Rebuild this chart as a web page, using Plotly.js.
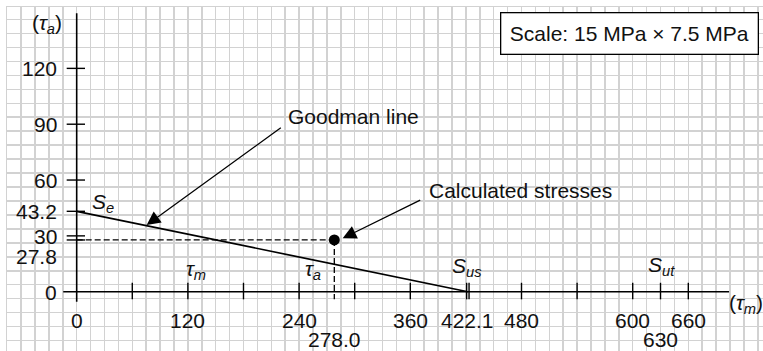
<!DOCTYPE html>
<html>
<head>
<meta charset="utf-8">
<script src="https://cdn.plot.ly/plotly-3.0.1.min.js"></script>
<style>html,body{margin:0;padding:0;background:#fff;}#chart{width:763px;height:351px;}</style>
</head>
<body>
<div id="chart"></div>
<script>
// ---- data ----
const goodmanTauM = [0, 422.1];
const goodmanTauA = [43.2, 0];
const calcTauM = [278.0];
const calcTauA = [27.8];
const xTickVals = [60, 120, 180, 240, 300, 360, 480, 540, 600, 630, 660];
const xLabelRow1Vals = [0, 120, 240, 360, 422.1, 480, 600, 660];
const xLabelRow1Text = ['0', '120', '240', '360', '422.1', '480', '600', '660'];
const xLabelRow2Vals = [278.0, 630];
const xLabelRow2Text = ['278.0', '630'];
const yTickVals = [120, 90, 60, 43.2, 30, 27.8];
const yLabelVals = [120, 90, 60, 43.2, 30, 27.8, 0];
const yLabelText = ['120', '90', '60', '43.2', '30', '27.8', '0'];
const yLabelShift = [0, 0, 0, 0, 0, -16, 0];
const Sus = 422.1;

// ---- style constants ----
const FONT = 'Liberation Sans, Arial, Helvetica, sans-serif';
const FS = 21;
const GRID = '#d2d2d2';
const BLACK = '#000';
const TICK_UP = 4.8, TICK_DN = -4.1;
const YTICK_L = -10.8, YTICK_R = 9.0;

const traces = [
  {x: goodmanTauM, y: goodmanTauA, mode: 'lines', line: {color: BLACK, width: 1.7}, hoverinfo: 'skip'},
  {x: [0, calcTauM[0]], y: [calcTauA[0], calcTauA[0]], mode: 'lines', line: {color: BLACK, width: 1.3, dash: '6px,3px'}, hoverinfo: 'skip'},
  {x: [calcTauM[0], calcTauM[0]], y: [calcTauA[0], TICK_DN], mode: 'lines', line: {color: BLACK, width: 1.3, dash: '6px,3px'}, hoverinfo: 'skip'},
  {x: calcTauM, y: calcTauA, mode: 'markers', marker: {color: BLACK, size: 11}, hoverinfo: 'skip'}
];

const shapes = [];
const ln = (x0, y0, x1, y1, w) => ({type: 'line', xref: 'x', yref: 'y', x0, y0, x1, y1, line: {color: BLACK, width: w || 1.4}});
shapes.push(ln(-14.5, 0, 704, 0, 1.6));
shapes.push(ln(0, -5.4, 0, 149.6, 1.6));
xTickVals.forEach(v => shapes.push(ln(v, TICK_DN, v, TICK_UP)));
yTickVals.forEach(v => shapes.push(ln(YTICK_L, v, YTICK_R, v)));
shapes.push(ln(Sus - 1.3, TICK_DN, Sus - 1.3, TICK_UP));
shapes.push(ln(Sus + 1.3, TICK_DN, Sus + 1.3, TICK_UP));

const ann = [];
const txt = (x, y, text, extra) => Object.assign({xref: 'x', yref: 'y', x, y, text, showarrow: false, font: {family: FONT, size: FS, color: '#111'}}, extra || {});
xLabelRow1Vals.forEach((v, i) => ann.push(txt(v, -15.3, xLabelRow1Text[i])));
xLabelRow2Vals.forEach((v, i) => ann.push(txt(v, -25.6, xLabelRow2Text[i], {height: 19})));
yLabelVals.forEach((v, i) => ann.push(txt(-19.5, v, yLabelText[i], {xanchor: 'right', yshift: yLabelShift[i], height: 16})));

ann.push(txt(-32, 143.8, '(<i>τ</i><sub><i>a</i></sub>)'));
ann.push(txt(722, -6.7, '(<i>τ</i><sub><i>m</i></sub>)'));
ann.push(txt(28.4, 47.7, '<i>S</i><sub><i>e</i></sub>'));
ann.push(txt(129, 11.6, '<i>τ</i><sub><i>m</i></sub>'));
ann.push(txt(255, 11.6, '<i>τ</i><sub><i>a</i></sub>'));
ann.push(txt(421, 13.2, '<i>S</i><sub><i>us</i></sub>'));
ann.push(txt(630.6, 13.8, '<i>S</i><sub><i>ut</i></sub>'));
ann.push(txt(225.5, 94.0, 'Goodman line', {xanchor: 'left'}));
ann.push(txt(377.7, 54.6, 'Calculated stresses', {xanchor: 'left'}));

// arrows
ann.push({xref: 'x', yref: 'y', axref: 'x', ayref: 'y', x: 75.5, y: 35.8, ax: 221.9, ay: 88.7, text: '', showarrow: true,
  arrowhead: 2, arrowsize: 2.1, arrowwidth: 1.3, arrowcolor: BLACK});
ann.push({xref: 'x', yref: 'y', axref: 'x', ayref: 'y', x: 287.0, y: 28.7, ax: 372.3, ay: 49.6, text: '', showarrow: true,
  arrowhead: 2, arrowsize: 2.1, arrowwidth: 1.3, arrowcolor: BLACK});

// scale box
ann.push({xref: 'paper', yref: 'paper', x: (629.3 - 7) / 756, y: (351 - 33.7) / 344, xanchor: 'center', yanchor: 'middle',
  text: 'Scale: 15 MPa × 7.5 MPa', showarrow: false, font: {family: FONT, size: FS, color: '#111'},
  bgcolor: '#fff', bordercolor: BLACK, borderwidth: 1.3, borderpad: 6, width: 244, height: 28});

const layout = {
  width: 763, height: 351,
  margin: {l: 7, r: 0, t: 7, b: 0, pad: 0},
  paper_bgcolor: '#fff', plot_bgcolor: '#fff',
  showlegend: false,
  xaxis: {range: [-75.2, 740.6], tickmode: 'linear', tick0: 0, dtick: 15, showticklabels: false, ticks: '',
    showgrid: true, gridcolor: GRID, gridwidth: 1.5, zeroline: false, showline: true, mirror: true, linecolor: GRID, linewidth: 1.5, fixedrange: true},
  yaxis: {range: [-31.86, 152.98], tickmode: 'linear', tick0: 3.75, dtick: 7.5, showticklabels: false, ticks: '',
    showgrid: true, gridcolor: GRID, gridwidth: 1.5, zeroline: false, showline: true, mirror: true, linecolor: GRID, linewidth: 1.5, fixedrange: true},
  shapes: shapes,
  annotations: ann
};

Plotly.newPlot('chart', traces, layout, {displayModeBar: false, staticPlot: true});
</script>
</body>
</html>
